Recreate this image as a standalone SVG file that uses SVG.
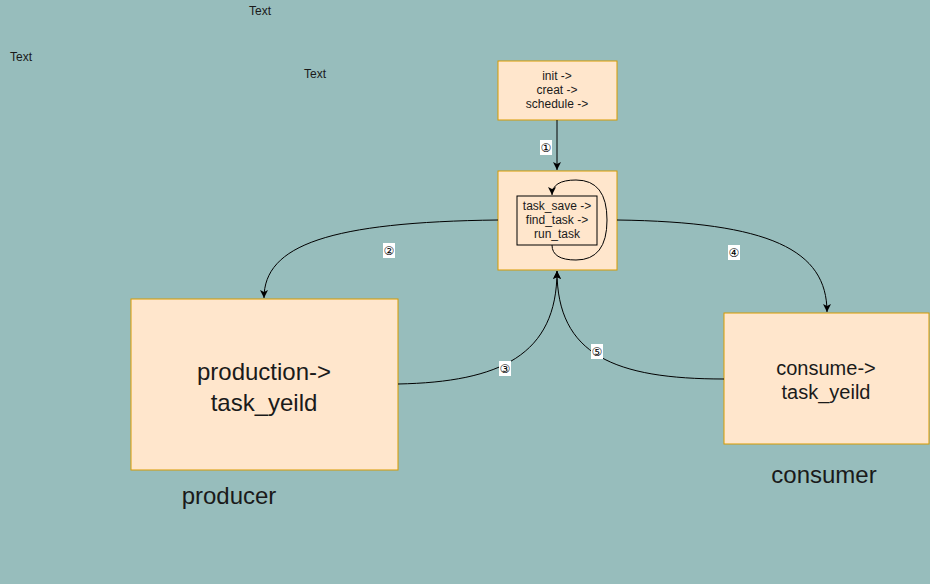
<svg xmlns="http://www.w3.org/2000/svg" width="930" height="584" viewBox="0 0 930 584">
<style>
.box{fill:#FFE6CC;stroke:#D79B00;stroke-width:1}
.inner{fill:none;stroke:#000;stroke-width:1}
.t{font-family:"Liberation Sans",Arial,sans-serif;fill:#1a1a1a;text-anchor:middle}
.s{font-size:12px}
.m{font-size:20px}
.l{font-size:24px}
.edge{fill:none;stroke:#000;stroke-width:1;marker-end:url(#arr)}
.lbl rect{fill:#fff}
.lbl text{font-family:"DejaVu Sans",sans-serif;font-size:12px;fill:#000;text-anchor:middle}
</style>
<defs>
<marker id="arr" markerWidth="10" markerHeight="10" refX="8" refY="4" orient="auto" markerUnits="userSpaceOnUse">
<path d="M0,0 L8,4 L0,8 L2,4 Z" fill="#000"/>
</marker>
</defs>
<rect width="930" height="584" fill="#97BDBC"/>
<text class="t s" x="260" y="15">Text</text>
<text class="t s" x="21" y="61">Text</text>
<text class="t s" x="315" y="78">Text</text>
<g id="init">
<rect class="box" x="498" y="61" width="119" height="59"/>
<text class="t s" x="557" y="80">init -&gt;</text>
<text class="t s" x="557" y="94">creat -&gt;</text>
<text class="t s" x="557" y="108">schedule -&gt;</text>
</g>
<g id="scheduler">
<rect class="box" x="498" y="171" width="119" height="99"/>
<rect class="inner" x="517" y="196" width="80" height="49"/>
<text class="t s" x="557" y="210">task_save -&gt;</text>
<text class="t s" x="557" y="224">find_task -&gt;</text>
<text class="t s" x="557" y="238">run_task</text>
</g>
<g id="producer">
<rect class="box" x="131" y="299" width="267" height="171"/>
<text class="t l" x="264" y="380">production-&gt;</text>
<text class="t l" x="264" y="411">task_yeild</text>
<text class="t l" x="229" y="504">producer</text>
</g>
<g id="consumer">
<rect class="box" x="724" y="313" width="205" height="131"/>
<text class="t m" x="826" y="375">consume-&gt;</text>
<text class="t m" x="826" y="399">task_yeild</text>
<text class="t l" x="824" y="483">consumer</text>
</g>
<g id="connectors">
<path class="edge" d="M557,120 L557,170"/>
<path class="edge" d="M552,245 Q552,260 576,260 Q607,260 607,220 Q607,180 576,180 Q552,180 552,195"/>
<path class="edge" d="M498,220 C330,222 264,245 264,298"/>
<path class="edge" d="M617,220 C770,222 827,250 827,312"/>
<path class="edge" d="M398,384 C500,382 557,355 557,271"/>
<path class="edge" d="M724,379 C615,379 557,355 557,271"/>
<g class="lbl"><rect x="540" y="140" width="12" height="15"/><text x="546" y="152">①</text></g>
<g class="lbl"><rect x="383" y="243" width="12" height="15"/><text x="389" y="255">②</text></g>
<g class="lbl"><rect x="499" y="361" width="12" height="15"/><text x="505" y="373">③</text></g>
<g class="lbl"><rect x="728" y="245" width="12" height="15"/><text x="734" y="257">④</text></g>
<g class="lbl"><rect x="591" y="344" width="12" height="15"/><text x="597" y="356">⑤</text></g>
</g>
</svg>
